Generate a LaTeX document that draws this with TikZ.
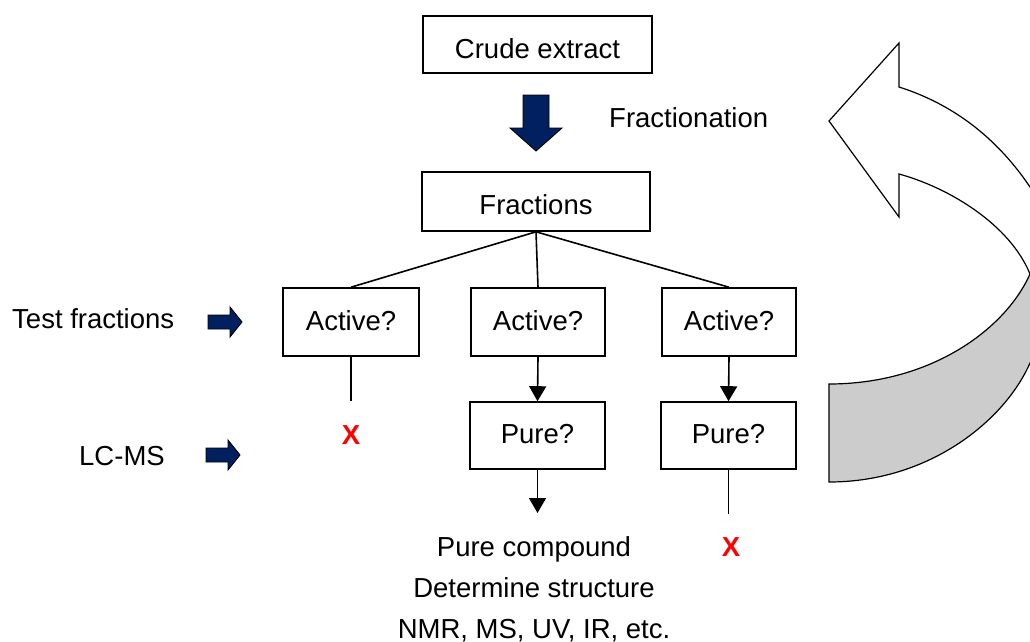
\documentclass[tikz,border=0pt]{standalone}
\usepackage{fontspec}
\setmainfont{Liberation Sans}
\usetikzlibrary{arrows.meta}
\definecolor{navy}{RGB}{0,32,96}
\definecolor{ribbongray}{RGB}{204,204,204}
\begin{document}
\begin{tikzpicture}[x=1pt,y=-1pt,
  every node/.style={font=\fontsize{27.5}{32}\selectfont},
  box/.style={draw, line width=1.6pt, inner sep=0pt, text height=20pt, text depth=4pt,
              minimum width=135pt, minimum height=68pt},
  lbl/.style={inner sep=0pt, anchor=base},
  conn/.style={line width=1.6pt},
  arr/.style={line width=1.6pt, -{Triangle[length=15pt,width=17pt]}},
  blockarrow/.style={fill=navy, draw=black, line width=0.9pt, line join=miter},
  ribbon/.style={draw=black, line width=1.2pt, line join=miter},
  redx/.style={lbl, text=red, font=\fontsize{27.5}{32}\selectfont\bfseries}
]
\useasboundingbox (0,0) rectangle (1030,642);

% boxes
\node[box, minimum width=229pt, minimum height=57pt, text height=27.6pt, text depth=0pt] (crude) at (537.5,44.5) {Crude extract};
\node[box, minimum width=228pt, minimum height=59pt, text height=25pt, text depth=0pt] (frac) at (536,201.5) {Fractions};
\node[box, minimum width=136pt] (a1) at (351,322) {Active?};
\node[box, minimum width=134pt] (a2) at (538,322) {Active?};
\node[box, minimum width=134pt] (a3) at (729,322) {Active?};
\node[box, minimum height=67pt] (p1) at (537.5,435.5) {Pure?};
\node[box, minimum height=67pt] (p2) at (728.5,435.5) {Pure?};

% labels
\node[lbl, anchor=base west] (fr) at (609,127) {Fractionation};
\node[lbl, anchor=base west] (tf) at (12,328) {Test fractions};
\node[lbl, anchor=base west] (lc) at (79,465) {LC-MS};
\node[redx] (x1) at (351,444) {X};
\node[redx] (x2) at (731,556) {X};
\node[lbl] (t1) at (534,556) {Pure compound};
\node[lbl] (t2) at (534,597) {Determine structure};
\node[lbl] (t3) at (534,638) {NMR, MS, UV, IR, etc.};

% free ends
\coordinate (e1) at (351,401);
\coordinate (e2) at (537.5,513);
\coordinate (e3) at (728.5,514);

% connectors
\draw[conn] (frac.south) -- (a1.north);
\draw[conn] (frac.south) -- (a2.north);
\draw[conn] (frac.south) -- (a3.north);
\draw[conn] (a1.south) -- (e1);
\draw[arr] (a2.south) -- (p1.north);
\draw[arr] (a3.south) -- (p2.north);
\draw[arr] (p1.south) -- (e2);
\draw[conn] (p2.south) -- (e3);

% block arrows
\draw[blockarrow] (523,95) -- (549,95) -- (549,128) -- (562,128) -- (536,151) -- (510,128) -- (523,128) -- cycle;
\draw[blockarrow] (208,315) -- (230,315) -- (230,307) -- (242,322) -- (230,337) -- (230,329) -- (208,329) -- cycle;
\draw[blockarrow] (206,448) -- (228,448) -- (228,440) -- (240,455) -- (228,470) -- (228,462) -- (206,462) -- cycle;

% curved ribbon arrow
\begin{scope}
\clip (0,0) rectangle (1030,642);
\draw[ribbon, fill=ribbongray] (829,384) -- (829,482)
  .. controls (930,482) and (1005,420) .. (1030,363) -- (1045,363) -- (1045,274) -- (1030,274)
  .. controls (1005,330) and (930,384) .. (829,384) -- cycle;
\draw[ribbon, fill=white] (829,121) -- (899,43) -- (899,87)
  .. controls (965,108) and (1005,150) .. (1030,187) -- (1045,200) -- (1045,274) -- (1030,274)
  .. controls (1010,225) and (950,188) .. (899,174) -- (899,217) -- cycle;
\end{scope}
\end{tikzpicture}
\end{document}
